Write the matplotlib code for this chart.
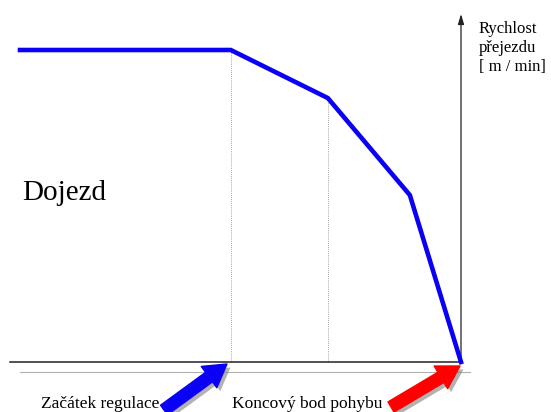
import matplotlib
matplotlib.use("Agg")
import matplotlib.pyplot as plt
import matplotlib.patheffects as pe

# speed profile during run-out (Dojezd)
time_pts = [0.0, 4.78, 6.98, 8.84, 10.0]
speed_pts = [100, 100, 84.6, 53.5, 0]
dotted_idx = [1, 2]  # vertical guides at these breakpoints

y_label = "Rychlost\npřejezdu\n[ m / min]"
area_label = "Dojezd"
start_label = "Začátek regulace"
end_label = "Koncový bod pohybu"

W, H = 551, 412
# pixel mapping: x_px = 20 + 44.1 * t, y_px(from top) = 362 - 3.12 * v
X0, XS = 20, 44.1
Y0, YS = 362, 3.12


def tx(px):
    return (px - X0) / XS


def ty(py):
    return (Y0 - py) / YS


plt.rcParams["font.family"] = ["Liberation Serif", "DejaVu Serif"]

fig = plt.figure(figsize=(W / 100, H / 100), dpi=100)
ax = fig.add_axes([0, 0, 1, 1])
ax.set_xlim(tx(0), tx(W))
ax.set_ylim(ty(H), ty(0))
ax.axis("off")

# axes lines
ax.plot([tx(10), tx(462)], [0, 0], color="#222222", lw=1.1, zorder=2)
ax.plot([tx(20), tx(470)], [ty(372), ty(372)], color="#b0b0b0", lw=0.8, zorder=1)
ax.annotate("", xy=(time_pts[-1], ty(14)), xytext=(time_pts[-1], 0),
            arrowprops=dict(arrowstyle="-|>,head_length=0.6,head_width=0.18",
                            color="#222222", lw=0.9, shrinkA=0, shrinkB=0))

# dotted guides
for i in dotted_idx:
    ax.plot([time_pts[i], time_pts[i]], [0, speed_pts[i]],
            color="#888888", lw=0.6, ls=(0, (1, 1.5)), zorder=1)

ax.plot(time_pts, speed_pts, color="#0a00f5", lw=3.3,
        solid_joinstyle="miter", zorder=3)

ax.text(tx(22), ty(193), area_label, fontsize=21, va="center", ha="left")
ax.text(tx(479), ty(21), y_label, fontsize=12, va="top", ha="left",
        linespacing=1.25)

ax.text(tx(41), ty(408), start_label, fontsize=12.5, ha="left", va="baseline")
ax.text(tx(232), ty(408), end_label, fontsize=12.5, ha="left", va="baseline")


def fat_arrow(tail, tip, color):
    ann = ax.annotate(
        "", xy=(tx(tip[0]), ty(tip[1])), xytext=(tx(tail[0]), ty(tail[1])),
        arrowprops=dict(arrowstyle="simple,head_length=1.6,head_width=1.9,tail_width=0.85",
                        color=color, shrinkA=0, shrinkB=0, mutation_scale=10),
        zorder=4)
    ann.arrow_patch.set_path_effects([
        pe.SimplePatchShadow(offset=(2.5, -2.5), shadow_rgbFace="#808080", alpha=0.6),
        pe.Normal()])


fat_arrow((164, 410), (227, 364), "#0a00f5")
fat_arrow((391, 407), (460, 366), "#ff0000")

fig.savefig("out.png", dpi=100)
